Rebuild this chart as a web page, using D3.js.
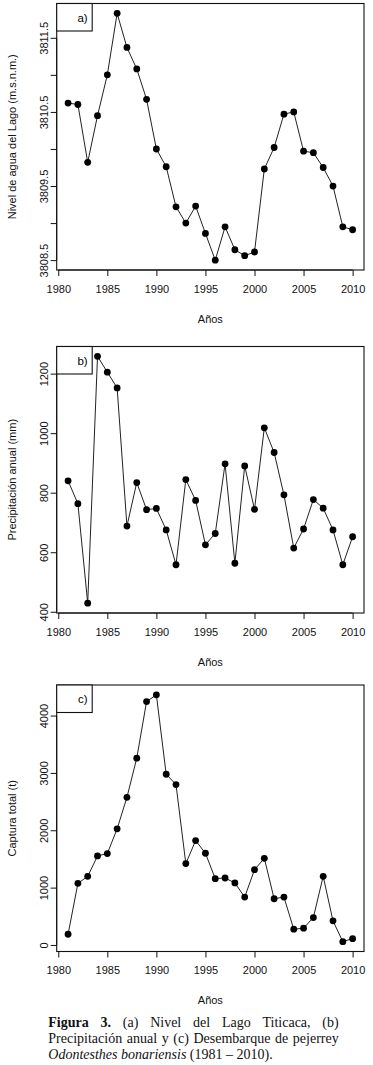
<!DOCTYPE html>
<html><head><meta charset="utf-8">
<script src="https://cdn.jsdelivr.net/npm/d3@7"></script>
<style>body{margin:0;background:#fff}svg{display:block}</style>
</head><body>
<script>
const years = d3.range(1981, 2011);
const lakeLevel = [3810.62,3810.60,3809.82,3810.45,3811.00,3811.83,3811.37,3811.08,3810.67,3810.00,
  3809.76,3809.22,3809.00,3809.23,3808.86,3808.50,3808.95,3808.64,3808.56,3808.61,
  3809.73,3810.02,3810.47,3810.50,3809.97,3809.95,3809.75,3809.50,3808.95,3808.91];
const precipitation = [840,763,429,1258,1205,1152,688,834,743,747,
  675,558,844,774,625,663,897,563,890,744,
  1018,935,793,614,678,777,748,675,558,652];
const catchTotal = [187,1074,1196,1553,1594,2025,2575,3257,4244,4361,
  2977,2797,1419,1821,1599,1156,1168,1081,835,1313,
  1511,806,835,275,292,478,1196,420,58,110];
const xTicks = [1980,1985,1990,1995,2000,2005,2010];
const lakeTicks = [3808.5,3809,3809.5,3810,3810.5,3811,3811.5];
const lakeTickLabels = ["3808.5","","3809.5","","3810.5","","3811.5"];
const precTicks = [400,600,800,1000,1200];
const catchTicks = [0,1000,2000,3000,4000];
const panelLabels = ["a)","b)","c)"];
const yTitles = ["Nivel de agua del Lago (m.s.n.m.)","Precipitación anual (mm)","Captura total (t)"];
const xTitle = "Años";

const W = 373, H = 1065;
const svg = d3.select("body").append("svg").attr("width", W).attr("height", H);
const font = "Liberation Sans, Arial, sans-serif";
const left = 56.7, right = 364;

const panels = [
  {vals: lakeLevel, ticks: lakeTicks, labels: lakeTickLabels, top: 3.5, bottom: 270},
  {vals: precipitation, ticks: precTicks, labels: precTicks.map(String), top: 346.5, bottom: 613},
  {vals: catchTotal, ticks: catchTicks, labels: catchTicks.map(String), top: 685, bottom: 951.5}
];

function ext(mn, mx){ const p = (mx-mn)*0.04; return [mn-p, mx+p]; }
const x = d3.scaleLinear().domain(ext(1981, 2010)).range([left, right]);

panels.forEach((p, i) => {
  const y = d3.scaleLinear().domain(ext(d3.min(p.vals), d3.max(p.vals))).range([p.bottom, p.top]);
  const g = svg.append("g");
  // box
  g.append("rect").attr("x", left).attr("y", p.top).attr("width", right-left).attr("height", p.bottom-p.top)
    .attr("fill","none").attr("stroke","#111").attr("stroke-width",1.1);
  // x axis ticks
  const xa = g.append("g").attr("transform", `translate(0,${p.bottom})`)
    .call(d3.axisBottom(x).tickValues(xTicks).tickFormat(d3.format("d")).tickSize(6).tickPadding(9));
  xa.select(".domain").attr("d", `M${x(1980)},0H${x(2010)}`).attr("stroke","#111");
  xa.selectAll(".tick line").attr("stroke","#111");
  xa.selectAll("text").attr("font-family", font).attr("font-size", 11).attr("fill","#111");
  // y axis
  const ya = g.append("g").attr("transform", `translate(${left},0)`)
    .call(d3.axisLeft(y).tickValues(p.ticks).tickFormat((d,k)=>p.labels[k]).tickSize(6).tickPadding(0));
  ya.select(".domain").attr("d", `M0,${y(p.ticks[0])}V${y(p.ticks[p.ticks.length-1])}`).attr("stroke","#111");
  ya.selectAll(".tick line").attr("stroke","#111");
  ya.selectAll(".tick text").attr("font-family", font).attr("font-size", 11).attr("fill","#111")
    .attr("x", 0).attr("dy", null).attr("text-anchor","middle").attr("dominant-baseline","central")
    .attr("transform", "translate(-12.5,0) rotate(-90)");
  // line + points
  const line = d3.line().x((d,k)=>x(years[k])).y(d=>y(d));
  g.append("path").attr("d", line(p.vals)).attr("fill","none").attr("stroke","#222").attr("stroke-width",1);
  g.selectAll("circle").data(p.vals).join("circle")
    .attr("cx",(d,k)=>x(years[k])).attr("cy",d=>y(d)).attr("r",3.4).attr("fill","#000");
  // label box
  g.append("rect").attr("x", left).attr("y", p.top).attr("width", 35.5).attr("height", 27.5)
    .attr("fill","#fff").attr("stroke","#111").attr("stroke-width",1.1);
  g.append("text").attr("x", left+31).attr("y", p.top+14).attr("dominant-baseline","central")
    .attr("text-anchor","end").attr("font-family",font).attr("font-size",11.5).text(panelLabels[i]);
  // titles
  g.append("text").attr("x", (left+right)/2).attr("y", p.bottom+48.5).attr("dominant-baseline","central")
    .attr("text-anchor","middle").attr("font-family",font).attr("font-size",11).attr("fill","#111").text(xTitle);
  g.append("text").attr("transform", `translate(12,${(p.top+p.bottom)/2}) rotate(-90)`)
    .attr("dominant-baseline","central").attr("text-anchor","middle").attr("font-family",font)
    .attr("font-size",11).attr("fill","#111").text(yTitles[i]);
});

// caption
const serif = "Liberation Serif, Times New Roman, serif";
const capSize = 14;
const capLeft = 48.3, capRight = 338.7;
const captionLines = [
  {y: 1027, justify: true, words: [["Figura","bold"],["3.","bold"],["(a)"],["Nivel"],["del"],["Lago"],["Titicaca,"],["(b)"]]},
  {y: 1043, justify: true, words: [["Precipitación"],["anual"],["y"],["(c)"],["Desembarque"],["de"],["pejerrey"]]},
  {y: 1058.5, justify: false, words: [["Odontesthes","italic"],["bonariensis","italic"],["(1981 – 2010)."]]}
];
const cap = svg.append("g");
captionLines.forEach(L => {
  const nodes = L.words.map(([w, st]) => cap.append("text").attr("y", L.y).attr("font-family", serif)
      .attr("font-size", capSize).attr("fill","#111")
      .attr("font-weight", st === "bold" ? "bold" : null)
      .attr("font-style", st === "italic" ? "italic" : null).text(w));
  const widths = nodes.map(n => n.node().getComputedTextLength());
  const sum = d3.sum(widths);
  const gap = L.justify ? (capRight - capLeft - sum) / (nodes.length - 1) : capSize * 0.25;
  let cx = capLeft;
  nodes.forEach((n, k) => { n.attr("x", cx); cx += widths[k] + gap; });
});
</script>
</body></html>
